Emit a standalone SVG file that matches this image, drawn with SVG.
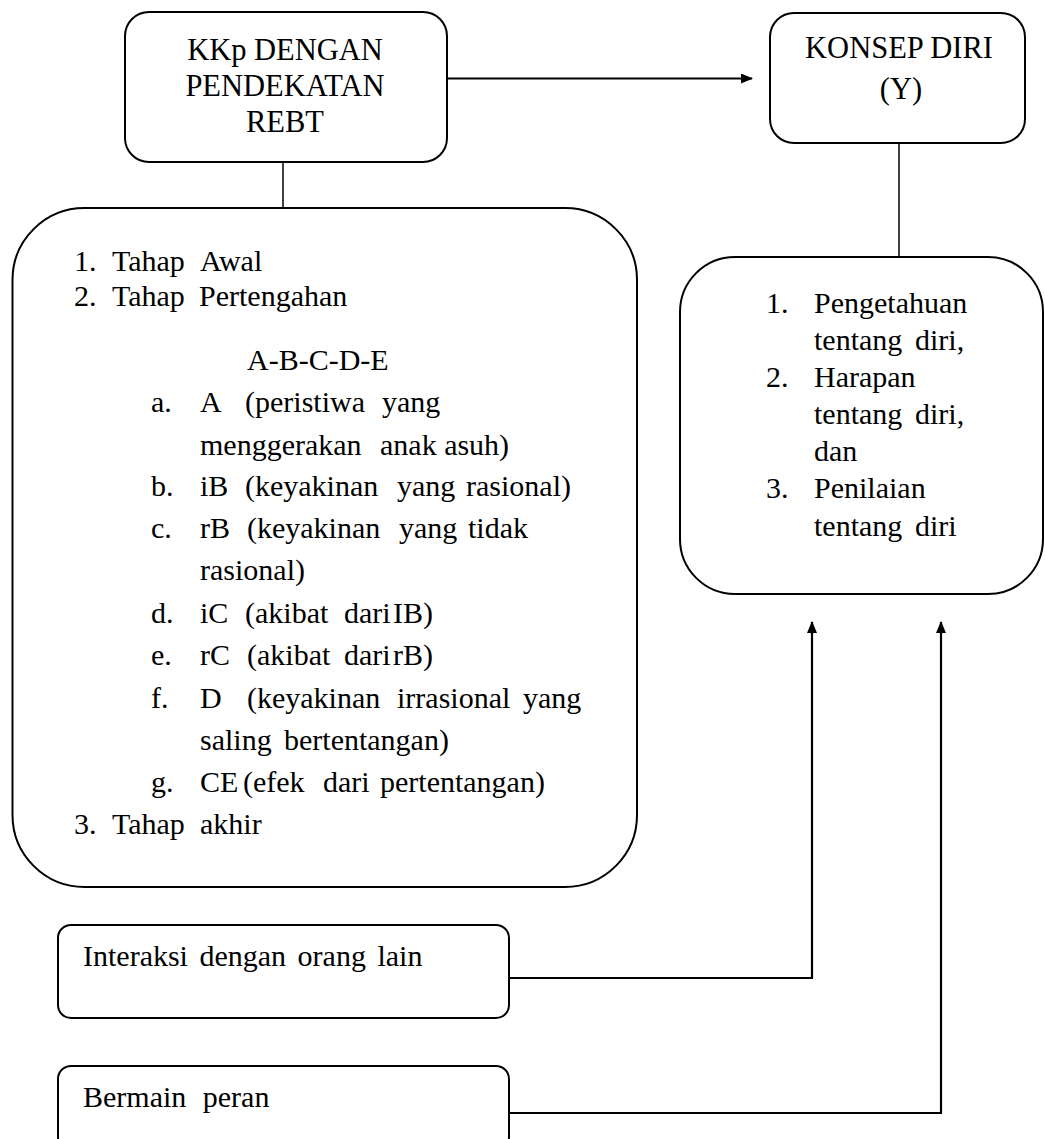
<svg xmlns="http://www.w3.org/2000/svg" width="1045" height="1139" viewBox="0 0 1045 1139" font-family="'Liberation Serif', 'DejaVu Serif', serif">
<defs>
<style>
.box{fill:#fff;stroke:#000;stroke-width:2}
.t{font-family:'Liberation Serif','DejaVu Serif',serif;font-size:30px;fill:#000}
.h{font-family:'Liberation Serif','DejaVu Serif',serif;font-size:30.5px;fill:#000;text-anchor:middle}
.ln{fill:none;stroke:#000;stroke-width:1.5}
.ar{fill:none;stroke:#000;stroke-width:2.2}
</style>
<marker id="arr" markerUnits="userSpaceOnUse" markerWidth="12" markerHeight="10" refX="11" refY="5" orient="auto">
<path d="M0,0 L12,5 L0,10 Z" fill="#000"/>
</marker>
</defs>
<rect width="1045" height="1139" fill="#fff"/>

<g id="connectors">
<line class="ar" x1="447" y1="78.5" x2="752" y2="78.5" marker-end="url(#arr)"/>
<line class="ln" x1="283" y1="162" x2="283" y2="208"/>
<line class="ln" x1="899" y1="143" x2="899" y2="257"/>
<polyline class="ar" points="509,978 812,978 812,622" marker-end="url(#arr)"/>
<polyline class="ar" points="509,1113 941,1113 941,622" marker-end="url(#arr)"/>
</g>

<g id="node-kkp">
<rect class="box" x="125" y="12" width="322" height="150" rx="24"/>
<text class="h" x="285" y="60">KKp DENGAN</text>
<text class="h" x="285" y="96">PENDEKATAN</text>
<text class="h" x="285" y="132">REBT</text>
</g>

<g id="node-konsep">
<rect class="box" x="770" y="13" width="255" height="130" rx="24"/>
<text class="h" x="899" y="58">KONSEP DIRI</text>
<text class="h" x="901" y="99">(Y)</text>
</g>

<g id="node-tahap">
<rect class="box" x="12.5" y="208" width="624.5" height="679" rx="72"/>
<text class="t" y="271"><tspan x="74">1.</tspan><tspan x="112">Tahap</tspan><tspan x="200">Awal</tspan></text>
<text class="t" y="306"><tspan x="74">2.</tspan><tspan x="112">Tahap</tspan><tspan x="199">Pertengahan</tspan></text>
<text class="t" x="247" y="370">A-B-C-D-E</text>
<text class="t" y="412"><tspan x="151">a.</tspan><tspan x="200">A</tspan><tspan x="245">(peristiwa</tspan><tspan x="382">yang</tspan></text>
<text class="t" y="455"><tspan x="200">menggerakan</tspan><tspan x="380">anak asuh)</tspan></text>
<text class="t" y="496"><tspan x="151">b.</tspan><tspan x="200">iB</tspan><tspan x="245">(keyakinan</tspan><tspan x="397">yang</tspan><tspan x="466">rasional)</tspan></text>
<text class="t" y="538"><tspan x="151">c.</tspan><tspan x="200">rB</tspan><tspan x="247">(keyakinan</tspan><tspan x="399">yang</tspan><tspan x="468">tidak</tspan></text>
<text class="t" x="200" y="580">rasional)</text>
<text class="t" y="623"><tspan x="151">d.</tspan><tspan x="200">iC</tspan><tspan x="245">(akibat</tspan><tspan x="344">dari</tspan><tspan x="393">IB)</tspan></text>
<text class="t" y="665"><tspan x="151">e.</tspan><tspan x="200">rC</tspan><tspan x="247">(akibat</tspan><tspan x="344">dari</tspan><tspan x="393">rB)</tspan></text>
<text class="t" y="708"><tspan x="151">f.</tspan><tspan x="200">D</tspan><tspan x="247">(keyakinan</tspan><tspan x="397">irrasional</tspan><tspan x="523">yang</tspan></text>
<text class="t" y="750"><tspan x="200">saling</tspan><tspan x="284">bertentangan)</tspan></text>
<text class="t" y="792"><tspan x="151">g.</tspan><tspan x="200">CE</tspan><tspan x="243">(efek</tspan><tspan x="323">dari</tspan><tspan x="380">pertentangan)</tspan></text>
<text class="t" y="834"><tspan x="74">3.</tspan><tspan x="112">Tahap</tspan><tspan x="200">akhir</tspan></text>
</g>

<g id="node-aspek">
<rect class="box" x="680" y="257" width="363" height="337" rx="55"/>
<text class="t" y="313"><tspan x="766">1.</tspan><tspan x="814">Pengetahuan</tspan></text>
<text class="t" y="350"><tspan x="814">tentang</tspan><tspan x="915">diri,</tspan></text>
<text class="t" y="387"><tspan x="766">2.</tspan><tspan x="814">Harapan</tspan></text>
<text class="t" y="424"><tspan x="814">tentang</tspan><tspan x="915">diri,</tspan></text>
<text class="t" x="814" y="461">dan</text>
<text class="t" y="498"><tspan x="766">3.</tspan><tspan x="814">Penilaian</tspan></text>
<text class="t" y="536"><tspan x="814">tentang</tspan><tspan x="915">diri</tspan></text>
</g>

<g id="node-interaksi">
<rect class="box" x="58" y="925" width="451" height="93" rx="13"/>
<text class="t" x="83" y="966" word-spacing="4">Interaksi dengan orang lain</text>
</g>

<g id="node-bermain">
<rect class="box" x="58" y="1066" width="451" height="84" rx="13"/>
<text class="t" x="83" y="1107" word-spacing="9">Bermain peran</text>
</g>
</svg>
